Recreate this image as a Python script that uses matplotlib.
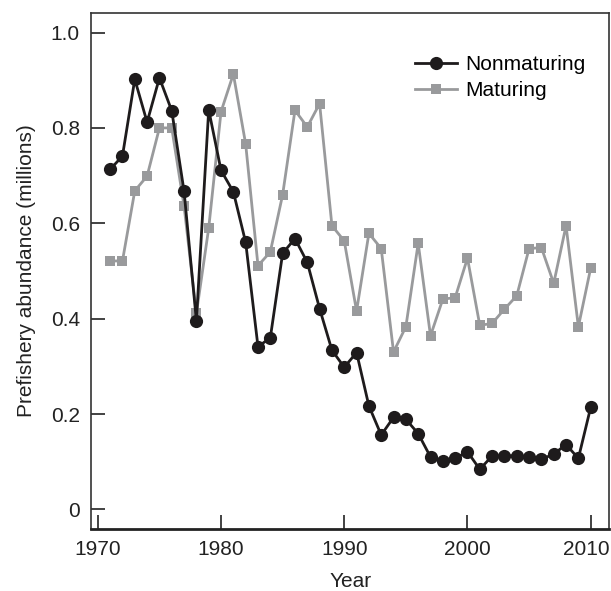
import matplotlib
matplotlib.use("Agg")
import matplotlib.pyplot as plt
from matplotlib.transforms import ScaledTranslation

years = list(range(1971, 2011))

nonmaturing = [0.713, 0.741, 0.902, 0.812, 0.905, 0.836, 0.667, 0.396, 0.838, 0.711,
               0.666, 0.560, 0.341, 0.360, 0.537, 0.568, 0.518, 0.421, 0.334, 0.298,
               0.329, 0.217, 0.156, 0.193, 0.189, 0.159, 0.110, 0.102, 0.107, 0.121,
               0.084, 0.112, 0.112, 0.113, 0.110, 0.105, 0.116, 0.136, 0.107, 0.214]

maturing = [0.521, 0.521, 0.668, 0.699, 0.800, 0.800, 0.636, 0.411, 0.590, 0.834,
            0.913, 0.766, 0.511, 0.540, 0.660, 0.837, 0.802, 0.851, 0.595, 0.563,
            0.416, 0.579, 0.547, 0.330, 0.383, 0.558, 0.364, 0.441, 0.444, 0.527,
            0.386, 0.390, 0.420, 0.448, 0.547, 0.549, 0.474, 0.595, 0.383, 0.506]

x_ticks = [1970, 1980, 1990, 2000, 2010]
y_ticks = [0, 0.2, 0.4, 0.6, 0.8, 1.0]
y_tick_labels = ["0", "0.2", "0.4", "0.6", "0.8", "1.0"]

plt.rcParams["font.family"] = ["Liberation Sans", "DejaVu Sans"]

fig = plt.figure(figsize=(6.11, 5.91), dpi=100)
ax = fig.add_axes([0.149, 0.105, 0.848, 0.873])

ax.plot(years, maturing, color="#999a9c", lw=2.0, marker="s", ms=7.5,
        markeredgewidth=0, label="Maturing", zorder=2)
ax.plot(years, nonmaturing, color="#1e1b1c", lw=2.0, marker="o", ms=9.5,
        markeredgewidth=0, label="Nonmaturing", zorder=3)

ax.set_xlim(1969.45, 2011.5)
ax.set_ylim(-0.041, 1.041)
ax.set_xticks(x_ticks)
ax.set_yticks(y_ticks)
ax.set_yticklabels(y_tick_labels)

ax.tick_params(direction="in", length=10, width=1.2, labelsize=15,
               colors="#222222", pad=8)
ax.tick_params(axis="y", pad=8)

# keep the last year label inside the figure edge
last = ax.get_xticklabels()[-1]
last.set_transform(last.get_transform()
                   + ScaledTranslation(-3 / 72, 0, fig.dpi_scale_trans))

for side in ["left", "right", "top"]:
    ax.spines[side].set_linewidth(1.2)
    ax.spines[side].set_color("#333333")
ax.spines["bottom"].set_linewidth(2.0)
ax.spines["bottom"].set_color("#222222")

ax.set_xlabel("Year", fontsize=15, color="#222222", labelpad=9)
ax.set_ylabel("Prefishery abundance (millions)", fontsize=15,
              color="#222222", labelpad=11)

handles, labels = ax.get_legend_handles_labels()
ax.legend(handles[::-1], labels[::-1], loc="upper right",
          bbox_to_anchor=(0.99, 0.955), frameon=False, fontsize=15,
          handlelength=2.0, handletextpad=0.4, labelspacing=0.35)

fig.savefig("out.png", dpi=100)
